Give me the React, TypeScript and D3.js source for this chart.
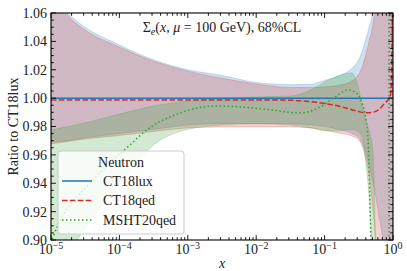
import React from 'react';
import * as d3 from 'd3';

// shared x grid for the uncertainty bands
const bandX = [1e-5, 1.78e-5, 3.16e-5, 1e-4, 3.16e-4, 1e-3, 3.16e-3, 1e-2, 3.16e-2, 0.063, 0.1, 0.158,
  0.251, 0.316, 0.355, 0.398, 0.447, 0.501, 0.562, 0.631, 0.708, 0.794, 0.891, 1];

const luxHigh = [1.078, 1.06, 1.05, 1.0375, 1.027, 1.02, 1.016, 1.011, 1.0095, 1.0098, 1.0125, 1.0156,
  1.021, 1.027, 1.033, 1.041, 1.05, 1.06, 1.09, 1.15, 1.25, 1.4, 1.6, 2.0];
const luxLow = [0.969, 0.97, 0.972, 0.975, 0.978, 0.981, 0.982, 0.982, 0.982, 0.981, 0.98, 0.978,
  0.975, 0.972, 0.968, 0.962, 0.953, 0.942, 0.93, 0.915, 0.9, 0.86, 0.7, 0.3];

const qedHigh = [1.076, 1.058, 1.048, 1.036, 1.026, 1.019, 1.014, 1.01, 1.0075, 1.0075, 1.008, 1.009,
  1.012, 1.017, 1.022, 1.03, 1.04, 1.05, 1.07, 1.12, 1.2, 1.35, 1.6, 2.0];
const qedLow = [0.9677, 0.9695, 0.9712, 0.9737, 0.9765, 0.979, 0.9797, 0.9797, 0.9797, 0.979, 0.9775, 0.9754,
  0.9733, 0.9705, 0.966, 0.958, 0.945, 0.925, 0.897, 0.86, 0.8, 0.7, 0.5, 0.3];

const mshtHigh = [0.9775, 0.98, 0.9825, 0.9888, 0.9944, 0.998, 1.0, 1.0008, 1.0015, 1.0057, 1.0114, 1.0156,
  1.0177, 1.006, 0.995, 0.985, 0.977, 0.965, 0.89, 0.75, 0.6, 0.5, 0.4, 0.3];
const mshtLow = [0.87, 0.89, 0.9085, 0.9395, 0.967, 0.978, 0.981, 0.982, 0.981, 0.979, 0.977, 0.977,
  0.978, 0.976, 0.972, 0.955, 0.93, 0.88, 0.8, 0.6, 0.5, 0.4, 0.3, 0.2];

// central values
const luxLineX = [1e-5, 1];
const luxLine = [1, 1];

const qedLineX = [1e-5, 1e-2, 3.16e-2, 0.063, 0.1, 0.158, 0.251, 0.316, 0.398, 0.501, 0.605, 0.764,
  0.904, 0.933, 0.977, 1];
const qedLine = [0.9987, 0.9987, 0.9985, 0.9975, 0.9962, 0.9945, 0.9918, 0.9905, 0.9897, 0.99, 0.9916, 0.9966,
  1.0008, 1.005, 1.06, 1.2];

const mshtLineX = [1e-5, 1.07e-5, 4.11e-5, 1.585e-4, 2.21e-4, 7.69e-4, 2.58e-3, 5.07e-3, 0.017, 0.0437,
  0.0857, 0.142, 0.22, 0.278, 0.352, 0.403, 0.432, 0.476, 0.55, 0.7, 0.85, 0.873, 0.877, 0.95, 1];
const mshtLine = [0.898, 0.902, 0.9423, 0.969, 0.9754, 0.9895, 0.9944, 0.994, 0.9916, 0.9895,
  0.9937, 1.0008, 1.0057, 1.0043, 0.9965, 0.9846, 0.9705, 0.9, 0.8, 0.5, 0.0, -1, 3, 2, 1.8];

const yTicks = [0.9, 0.92, 0.94, 0.96, 0.98, 1.0, 1.02, 1.04, 1.06];
const xTicks = [1e-5, 1e-4, 1e-3, 1e-2, 1e-1, 1];
const xTickExp = ['\u22125', '\u22124', '\u22123', '\u22122', '\u22121', '0'];
const legendTitle = 'Neutron';
const seriesNames = ['CT18lux', 'CT18qed', 'MSHT20qed'];

const BLUE = '#1f77b4';
const RED = '#d62728';
const GREEN = '#2ca02c';
const FONT = '"Liberation Serif", "Times New Roman", serif';

export default function App() {
  const W = 407, H = 271;
  const margin = { top: 13, right: 14, bottom: 31, left: 51 };
  const x = d3.scaleLog().domain([1e-5, 1]).range([margin.left, W - margin.right]);
  const y = d3.scaleLinear().domain([0.9, 1.06]).range([H - margin.bottom, margin.top]);
  const [x0, x1] = x.range();
  const [y0, y1] = y.range();

  const band = (lo: number[], hi: number[]) =>
    d3.area<number>()
      .x((_, i) => x(bandX[i]))
      .y0((_, i) => y(lo[i]))
      .y1((_, i) => y(hi[i]))
      .curve(d3.curveMonotoneX)(bandX) || '';

  const line = (xs: number[], vs: number[]) =>
    d3.line<number>()
      .x((_, i) => x(xs[i]))
      .y((_, i) => y(vs[i]))
      .curve(d3.curveMonotoneX)(xs) || '';

  const bands = [
    { lo: luxLow, hi: luxHigh, c: BLUE },
    { lo: qedLow, hi: qedHigh, c: RED },
    { lo: mshtLow, hi: mshtHigh, c: GREEN },
  ];
  const lines = [
    { xs: luxLineX, vs: luxLine, c: BLUE, dash: undefined },
    { xs: qedLineX, vs: qedLine, c: RED, dash: '5.5,2.4' },
    { xs: mshtLineX, vs: mshtLine, c: GREEN, dash: '1.5,2.5' },
  ];

  // minor ticks
  const xMinor: number[] = [];
  for (let d = -5; d < 0; d++) for (let k = 2; k < 10; k++) xMinor.push(k * Math.pow(10, d));
  const yMinor = d3.range(0, 33).map(i => 0.9 + i * 0.005).filter((_, i) => i % 4 !== 0);

  const MAJ = 4.9, MIN = 2.8;

  // legend geometry
  const lg = { x: 58, y: 151, w: 126, h: 83 };
  const rowY = [181, 200.5, 220];

  return (
    <svg width={W} height={H} style={{ position: 'absolute', left: 0, top: 0, background: '#fff' }}
      fontFamily={FONT}>
      <defs>
        <clipPath id="plot">
          <rect x={x0} y={y1} width={x1 - x0} height={y0 - y1} />
        </clipPath>
      </defs>
      <rect x={0} y={0} width={W} height={H} fill="#fff" />

      <g clipPath="url(#plot)">
        {bands.map((b, i) => (
          <path key={i} d={band(b.lo, b.hi)} fill={b.c} fillOpacity={0.22}
            stroke={b.c} strokeOpacity={0.22} strokeWidth={1} />
        ))}
        {lines.map((l, i) => (
          <path key={i} d={line(l.xs, l.vs)} fill="none" stroke={l.c} strokeWidth={1.5}
            strokeDasharray={l.dash} />
        ))}
      </g>

      {/* ticks */}
      <g stroke="#000" strokeWidth={0.9}>
        {xTicks.map((t, i) => (
          <g key={'xm' + i}>
            <line x1={x(t)} x2={x(t)} y1={y0} y2={y0 - MAJ} />
            <line x1={x(t)} x2={x(t)} y1={y1} y2={y1 + MAJ} />
          </g>
        ))}
        {xMinor.map((t, i) => (
          <g key={'xn' + i}>
            <line x1={x(t)} x2={x(t)} y1={y0} y2={y0 - MIN} />
            <line x1={x(t)} x2={x(t)} y1={y1} y2={y1 + MIN} />
          </g>
        ))}
        {yTicks.map((t, i) => (
          <g key={'ym' + i}>
            <line x1={x0} x2={x0 + MAJ} y1={y(t)} y2={y(t)} />
            <line x1={x1} x2={x1 - MAJ} y1={y(t)} y2={y(t)} />
          </g>
        ))}
        {yMinor.map((t, i) => (
          <g key={'yn' + i}>
            <line x1={x0} x2={x0 + MIN} y1={y(t)} y2={y(t)} />
            <line x1={x1} x2={x1 - MIN} y1={y(t)} y2={y(t)} />
          </g>
        ))}
      </g>
      <rect x={x0} y={y1} width={x1 - x0} height={y0 - y1} fill="none" stroke="#000" strokeWidth={1.1} />

      {/* tick labels */}
      {yTicks.map((t, i) => (
        <text key={'yl' + i} x={x0 - 4} y={y(t)} dy="0.35em" textAnchor="end" fontSize={14} fill="#222">
          {d3.format('.2f')(t)}
        </text>
      ))}
      {xTicks.map((t, i) => (
        <text key={'xl' + i} x={x(t)} y={y0 + 14} textAnchor="middle" fontSize={14} fill="#222">
          <tspan>10</tspan>
          <tspan dy={-5.5} fontSize={10}>{xTickExp[i]}</tspan>
        </text>
      ))}

      {/* axis labels */}
      <text x={(x0 + x1) / 2} y={H - 3} textAnchor="middle" fontSize={14} fontStyle="italic" fill="#222">x</text>
      <text transform={`translate(18,${(y0 + y1) / 2}) rotate(-90)`} textAnchor="middle" fontSize={14} fill="#222">
        Ratio to CT18lux
      </text>

      {/* title */}
      <text x={(x0 + x1) / 2} y={32} textAnchor="middle" fontSize={14} fill="#222">
        <tspan>Σ</tspan>
        <tspan dy={3} fontSize={10} fontStyle="italic">e</tspan>
        <tspan dy={-3}>(</tspan>
        <tspan fontStyle="italic">x</tspan>
        <tspan>, </tspan>
        <tspan fontStyle="italic">μ</tspan>
        <tspan> = 100 GeV),  68%CL</tspan>
      </text>

      {/* legend */}
      <g>
        <rect x={lg.x} y={lg.y} width={lg.w} height={lg.h} rx={3} fill="#fff" fillOpacity={0.8}
          stroke="#cccccc" strokeWidth={1} />
        <text x={lg.x + lg.w / 2} y={lg.y + 16} textAnchor="middle" fontSize={14} fill="#222">{legendTitle}</text>
        {lines.map((l, i) => (
          <g key={'lg' + i}>
            <line x1={62} x2={92} y1={rowY[i]} y2={rowY[i]} stroke={l.c} strokeWidth={1.5}
              strokeDasharray={l.dash} />
            <text x={103} y={rowY[i]} dy="0.35em" fontSize={14} fill="#222">{seriesNames[i]}</text>
          </g>
        ))}
      </g>
    </svg>
  );
}
